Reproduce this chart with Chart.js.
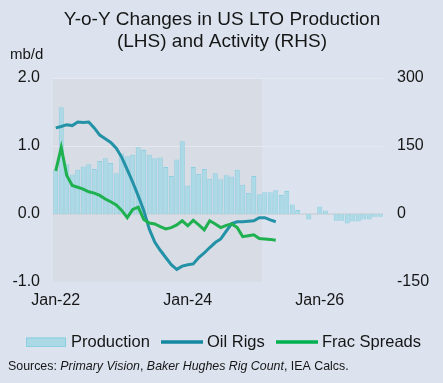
<!DOCTYPE html>
<html>
<head>
<meta charset="utf-8">
<script src="https://cdn.jsdelivr.net/npm/chart.js@4"></script>
<style>
  html,body{margin:0;padding:0;background:#dce3ef;}
  #wrap{width:443px;height:383px;position:relative;}
</style>
</head>
<body>
<div id="wrap"><canvas id="c" width="443" height="383"></canvas></div>
<script>
// ---- data ----
const categories = [
  'Jan-22','Feb-22','Mar-22','Apr-22','May-22','Jun-22','Jul-22','Aug-22','Sep-22','Oct-22','Nov-22','Dec-22',
  'Jan-23','Feb-23','Mar-23','Apr-23','May-23','Jun-23','Jul-23','Aug-23','Sep-23','Oct-23','Nov-23','Dec-23',
  'Jan-24','Feb-24','Mar-24','Apr-24','May-24','Jun-24','Jul-24','Aug-24','Sep-24','Oct-24','Nov-24','Dec-24',
  'Jan-25','Feb-25','Mar-25','Apr-25','May-25','Jun-25','Jul-25','Aug-25','Sep-25','Oct-25','Nov-25','Dec-25',
  'Jan-26','Feb-26','Mar-26','Apr-26','May-26','Jun-26','Jul-26','Aug-26','Sep-26','Oct-26','Nov-26','Dec-26'
];
const xTickLabels = ['Jan-22','Jan-24','Jan-26'];
const historyEnd = 'Feb-25';

// Production y-o-y change, mb/d (LHS)
const production = [
  0.65,1.57,0.73,0.58,0.65,0.70,0.73,0.66,0.78,0.82,0.75,0.60,
  0.89,0.85,0.87,0.98,0.94,0.87,0.82,0.83,0.69,0.56,0.80,1.07,
  0.42,0.69,0.59,0.66,0.52,0.60,0.51,0.57,0.55,0.65,0.43,0.31,
  0.56,0.29,0.32,0.32,0.35,0.28,0.34,0.14,0.06,null,-0.08,null,
  0.11,0.05,null,-0.10,-0.10,-0.14,-0.11,-0.11,-0.08,-0.08,-0.04,-0.04
];
// Oil rigs y-o-y change, count (RHS)
const oilRigs = [
  190,193,197,195,203,202,203,190,174,166,158,145,
  125,98,70,40,8,-33,-62,-80,-96,-112,-122,-115,
  -112,-110,-96,-86,-74,-63,-55,-38,-21,-17,-17,-16,
  -15,-8,-8,-13,-17
];
// Frac spreads y-o-y change, count (RHS)
const fracSpreads = [
  95,147,85,63,59,55,49,46,41,33,27,20,
  8,-8,10,15,-12,-20,-22,-28,-33,-30,-24,-15,
  -26,-14,-24,-35,-15,-22,-30,-25,-22,-30,-50,-48,
  -46,-54,-55,-56,-58
];
const leftTicks = [-1, 0, 1, 2];
const rightTicks = [-150, 0, 150, 300];

// ---- styles ----
const FONT = "'Liberation Sans', Arial, sans-serif";
const BAR_FILL = '#acd9e6';
const BAR_EDGE = '#8ccfe0';
const RIG_COL = '#2392a7';
const FRAC_COL = '#1fb14f';
const TEXT = '#161616';

const shadePlugin = {
  id: 'shade',
  beforeDatasetsDraw(chart) {
    const {ctx, chartArea, scales} = chart;
    const x = scales.x;
    const idx = categories.indexOf(historyEnd);
    const half = (x.getPixelForValue(1) - x.getPixelForValue(0)) / 2;
    const xr = x.getPixelForValue(idx) + half;
    ctx.save();
    ctx.fillStyle = '#d7dce5';
    ctx.fillRect(chartArea.left, chartArea.top, xr - chartArea.left, chartArea.bottom - chartArea.top);
    const y = scales.y;
    [1, 2].forEach(v => {
      ctx.strokeStyle = '#e5e8ee';
      ctx.lineWidth = 1;
      const py = Math.round(y.getPixelForValue(v)) + 0.5;
      ctx.beginPath(); ctx.moveTo(chartArea.left, py); ctx.lineTo(chartArea.right, py); ctx.stroke();
    });
    ctx.strokeStyle = '#cdd2d9';
    ctx.lineWidth = 1.5;
    const p0 = y.getPixelForValue(0);
    ctx.beginPath(); ctx.moveTo(chartArea.left, p0); ctx.lineTo(chartArea.right, p0); ctx.stroke();
    ctx.restore();
  }
};

const textPlugin = {
  id: 'texts',
  afterDraw(chart) {
    const ctx = chart.ctx;
    ctx.save();
    ctx.fillStyle = TEXT;
    ctx.textBaseline = 'middle';
    // title
    ctx.textAlign = 'center';
    ctx.font = `19px ${FONT}`;
    ctx.fillText('Y-o-Y Changes in US LTO Production', 222, 20);
    ctx.fillText('(LHS) and Activity (RHS)', 222, 42);
    // unit
    ctx.textAlign = 'left';
    ctx.font = `15px ${FONT}`;
    ctx.fillText('mb/d', 10, 55);
    // legend
    const ly = 342;
    ctx.fillStyle = BAR_FILL;
    ctx.fillRect(26, 337.5, 40, 9);
    ctx.strokeStyle = BAR_EDGE;
    ctx.lineWidth = 1;
    ctx.strokeRect(26.5, 338, 39, 8.5);
    ctx.fillStyle = TEXT;
    ctx.font = `16.5px ${FONT}`;
    ctx.fillText('Production', 71, ly);
    ctx.lineWidth = 3.5;
    ctx.strokeStyle = '#1487a1';
    ctx.beginPath(); ctx.moveTo(161, ly); ctx.lineTo(203, ly); ctx.stroke();
    ctx.fillText('Oil Rigs', 207, ly);
    ctx.strokeStyle = '#00b04f';
    ctx.beginPath(); ctx.moveTo(276, ly); ctx.lineTo(318, ly); ctx.stroke();
    ctx.fillText('Frac Spreads', 322, ly);
    // sources
    let sx = 8; const sy = 367;
    const parts = [['Sources: ', false], ['Primary Vision', true], [', ', false], ['Baker Hughes Rig Count', true], [', IEA Calcs.', false]];
    parts.forEach(([t, it]) => {
      ctx.font = `${it ? 'italic ' : ''}12.4px ${FONT}`;
      ctx.fillText(t, sx, sy);
      sx += ctx.measureText(t).width;
    });
    ctx.restore();
  }
};

new Chart(document.getElementById('c'), {
  data: {
    labels: categories,
    datasets: [
      {type: 'line', label: 'Oil Rigs', data: oilRigs, yAxisID: 'y1', borderColor: RIG_COL, borderWidth: 3,
       pointRadius: 0, tension: 0, order: 1},
      {type: 'line', label: 'Frac Spreads', data: fracSpreads, yAxisID: 'y1', borderColor: FRAC_COL, borderWidth: 3,
       pointRadius: 0, tension: 0, order: 0},
      {type: 'bar', label: 'Production', data: production, yAxisID: 'y', backgroundColor: BAR_FILL,
       borderColor: BAR_EDGE, borderWidth: 1, barPercentage: 0.92, categoryPercentage: 1, order: 2}
    ]
  },
  options: {
    responsive: false,
    animation: false,
    layout: {padding: {left: 0, right: 0, top: 78, bottom: 71}},
    plugins: {legend: {display: false}, title: {display: false}, tooltip: {enabled: false}},
    scales: {
      x: {
        grid: {display: false, drawTicks: false},
        border: {display: false},
        ticks: {
          autoSkip: false, maxRotation: 0, padding: 9, color: TEXT, font: {family: FONT, size: 16},
          callback: function(v) { const l = categories[v]; return xTickLabels.includes(l) ? l : ''; }
        },
        afterFit(s) { s.height = 30; }
      },
      y: {
        position: 'left', min: -1, max: 2,
        grid: {display: false, drawTicks: false},
        border: {display: false},
        afterBuildTicks(s) { s.ticks = leftTicks.map(v => ({value: v})); },
        ticks: {padding: 13, color: TEXT, font: {family: FONT, size: 16}, callback: v => v.toFixed(1)},
        afterFit(s) { s.width = 53; }
      },
      y1: {
        position: 'right', min: -150, max: 300,
        grid: {display: false, drawTicks: false},
        border: {display: false},
        afterBuildTicks(s) { s.ticks = rightTicks.map(v => ({value: v})); },
        ticks: {padding: 14, color: TEXT, font: {family: FONT, size: 16}, callback: v => String(v)},
        afterFit(s) { s.width = 60; }
      }
    }
  },
  plugins: [shadePlugin, textPlugin]
});
</script>
</body>
</html>
